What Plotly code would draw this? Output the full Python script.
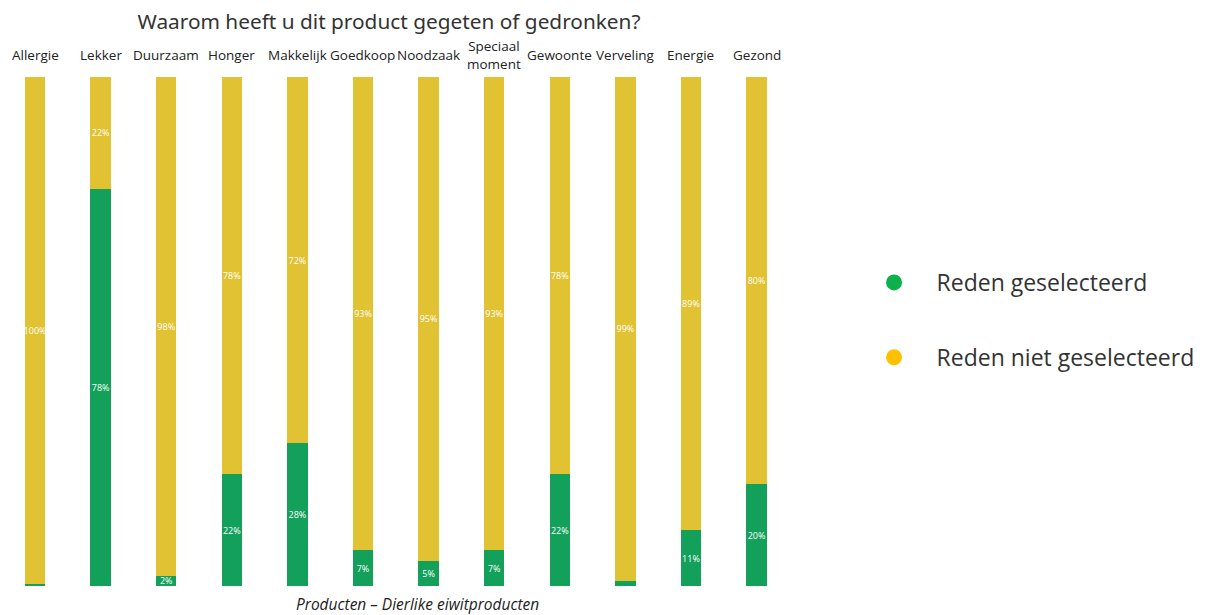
import plotly.graph_objects as go

categories = ["Allergie", "Lekker", "Duurzaam", "Honger", "Makkelijk", "Goedkoop",
              "Noodzaak", "Speciaal moment", "Gewoonte", "Verveling", "Energie", "Gezond"]
category_labels = ["Allergie", "Lekker", "Duurzaam", "Honger", "Makkelijk", "Goedkoop",
                   "Noodzaak", "Speciaal<br>moment", "Gewoonte", "Verveling", "Energie", "Gezond"]
selected = [0.4, 78, 2, 22, 28, 7, 5, 7, 22, 1, 11, 20]
not_selected = [99.6, 22, 98, 78, 72, 93, 95, 93, 78, 99, 89, 80]

series_names = ["Reden geselecteerd", "Reden niet geselecteerd"]
title_text = "Waarom heeft u dit product gegeten of gedronken?"
footer_text = "Producten \u2013 Dierlike eiwitproducten"

BAR_GREEN = "#13A05A"
BAR_YELLOW = "#E0C233"
LEG_GREEN = "#0DB14B"
LEG_YELLOW = "#FFC000"


def labels(vals):
    return [f"{v:.0f}%" if v >= 2 else "" for v in vals]


fig = go.Figure()
fig.add_trace(go.Bar(
    x=categories, y=selected, marker=dict(color=BAR_GREEN, line=dict(width=0)),
    text=labels(selected), textposition="inside", insidetextanchor="middle", textangle=0,
    textfont=dict(color="white", size=9, family="Open Sans"),
    showlegend=False, hoverinfo="skip"))
fig.add_trace(go.Bar(
    x=categories, y=not_selected, marker=dict(color=BAR_YELLOW, line=dict(width=0)),
    text=labels(not_selected), textposition="inside", insidetextanchor="middle", textangle=0,
    textfont=dict(color="white", size=9, family="Open Sans"),
    showlegend=False, hoverinfo="skip"))

# legend entries with circle markers
for name, col, grp in [(series_names[0], LEG_GREEN, "a"), (series_names[1], LEG_YELLOW, "b")]:
    fig.add_trace(go.Scatter(
        x=[None], y=[None], mode="markers", name=name, legendgroup=grp,
        marker=dict(symbol="circle", size=20, color=col)))

annotations = []
for cat, lab in zip(categories, category_labels):
    annotations.append(dict(
        x=cat, y=1.043, xref="x", yref="paper", text=lab, showarrow=False,
        xanchor="center", yanchor="middle",
        font=dict(family="Open Sans", size=13.5, color="#222222")))
annotations.append(dict(
    x=0.524, y=-0.0354, xref="paper", yref="paper", text=f"<i>{footer_text}</i>",
    showarrow=False, xanchor="center", yanchor="middle",
    font=dict(family="Open Sans", size=15.5, color="#222222")))

fig.update_layout(
    width=1200, height=607,
    margin=dict(l=0, r=418, t=69, b=29),
    paper_bgcolor="white", plot_bgcolor="white",
    barmode="stack", bargap=0.69,
    uniformtext=dict(minsize=9, mode="show"),
    title=dict(text=title_text, x=0.3175, xanchor="center", y=0.977, yanchor="middle",
               font=dict(family="Noto Sans", size=20.8, color="#333333")),
    xaxis=dict(showticklabels=False, showgrid=False, zeroline=False, showline=False,
               categoryorder="array", categoryarray=categories, range=[-0.412, 11.51]),
    yaxis=dict(range=[0, 100], showticklabels=False, showgrid=False, zeroline=False,
               showline=False),
    legend=dict(x=1.0787, xanchor="left", y=0.5226, yanchor="middle",
                font=dict(family="Open Sans", size=23, color="#333333"),
                tracegroupgap=42, itemwidth=75, bgcolor="rgba(0,0,0,0)"),
    annotations=annotations,
)

fig.write_html("out.html")
